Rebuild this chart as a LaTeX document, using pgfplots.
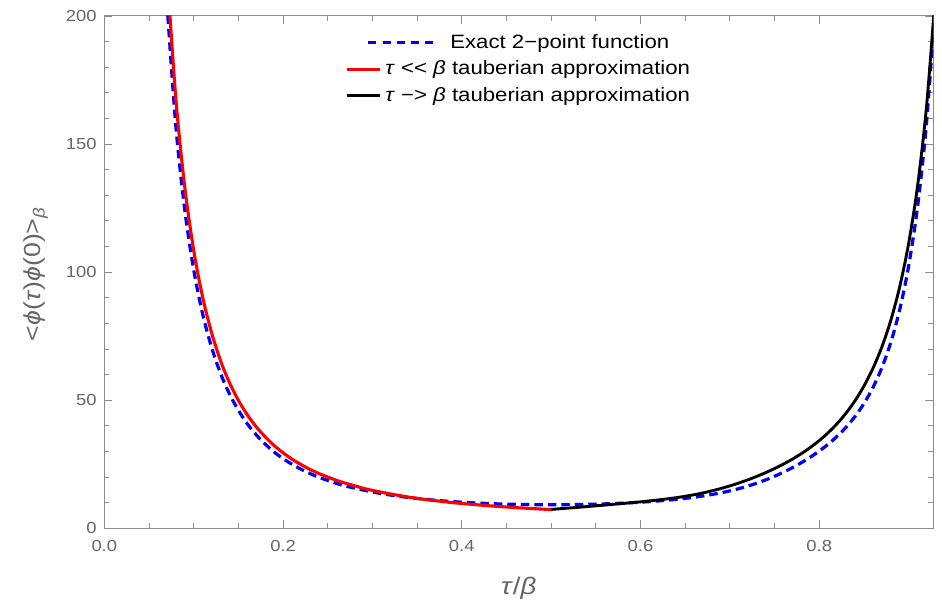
\documentclass[border=0pt]{standalone}
\usepackage{fontspec}
\setmainfont{Liberation Sans}[FakeStretch=1.15]
\usepackage{pgfplots}
\pgfplotsset{compat=1.18}
\definecolor{framegray}{HTML}{8C8C8C}
\definecolor{labelgray}{HTML}{666666}
\newcommand{\dsh}{\rule[4.2pt]{8pt}{3pt}}
\newcommand{\gp}{\hspace{6.25pt}}
\begin{document}
\begin{tikzpicture}
\begin{axis}[
  name=ax, scale only axis, width=829pt, height=512.3pt,
  xmin=0, xmax=0.9276, ymin=0, ymax=200,
  xtick={0,0.2,0.4,0.6,0.8}, ytick={0,50,100,150,200},
  minor x tick num=3, minor y tick num=4,
  tick align=inside, tick pos=both,
  major tick length=8pt, minor tick length=5pt,
  axis line style={framegray, line width=1pt},
  tick style={framegray, line width=0.9pt},
  /pgf/number format/assume math mode=true,
  xticklabel style={/pgf/number format/fixed, /pgf/number format/fixed zerofill, /pgf/number format/precision=1,
    font=\fontsize{16}{19}\selectfont, text=labelgray, inner sep=0pt, anchor=north, yshift=-11.7pt},
  yticklabel style={font=\fontsize{16}{19}\selectfont, text=labelgray, inner sep=0pt, anchor=east, xshift=-7.6pt},
  xlabel={\textit{τ}/\textit{β}},
  xlabel style={at={(axis description cs:0.5,-0.095)}, anchor=north, inner sep=0pt,
    font=\fontsize{24}{28}\selectfont, text=labelgray},
  ylabel={<\textit{ϕ}(\textit{τ})\textit{ϕ}(0)>\textsubscript{\textit{β}}},
  ylabel style={at={(axis description cs:-0.0824,0.496)}, anchor=center, inner sep=0pt,
    font=\fontsize{23.2}{27}\selectfont, text=labelgray},
  legend style={at={(axis description cs:0.5,0.972)}, anchor=north, draw=none, fill=none,
    inner sep=0pt, outer sep=0pt, row sep=0pt, column sep=0pt,
    font=\fontsize{19.3}{23}\selectfont,
    nodes={inner sep=0pt, text height=18pt, text depth=8.5pt}},
  legend cell align=center,
]
\addplot[blue, line width=3.2pt, dash pattern=on 8.5pt off 5pt, smooth, legend image code/.code={}] coordinates {
(0.07,205.5) (0.08,157.2) (0.09,124.4) (0.10,101.0) (0.11,83.7) (0.12,70.7) (0.13,60.5)
(0.14,52.5) (0.15,46.1) (0.16,40.8) (0.17,36.5) (0.18,32.9) (0.19,29.8) (0.20,27.2)
(0.21,25.0) (0.22,23.1) (0.23,21.4) (0.24,19.9) (0.25,18.7) (0.26,17.5) (0.27,16.5)
(0.28,15.7) (0.29,14.9) (0.30,14.2) (0.31,13.55) (0.32,12.99) (0.33,12.49) (0.34,12.04)
(0.35,11.64) (0.36,11.28) (0.37,10.96) (0.38,10.67) (0.39,10.42) (0.40,10.19) (0.41,9.99)
(0.42,9.82) (0.43,9.67) (0.44,9.54) (0.45,9.44) (0.46,9.35) (0.47,9.28) (0.48,9.24)
(0.49,9.21) (0.50,9.20) (0.51,9.21) (0.52,9.24) (0.53,9.28) (0.54,9.35) (0.55,9.44)
(0.56,9.54) (0.57,9.67) (0.58,9.82) (0.59,9.99) (0.60,10.19) (0.61,10.42) (0.62,10.68)
(0.63,10.98) (0.64,11.31) (0.65,11.69) (0.66,12.13) (0.67,12.63) (0.68,13.20) (0.69,13.86)
(0.70,14.61) (0.71,15.48) (0.72,16.48) (0.73,17.61) (0.74,18.89) (0.75,20.32) (0.76,21.92)
(0.77,23.68) (0.78,25.63) (0.79,27.78) (0.80,30.17) (0.81,32.85) (0.82,35.91) (0.83,39.46)
(0.84,43.66) (0.85,48.71) (0.86,54.91) (0.87,62.67) (0.88,72.54) (0.89,85.37) (0.90,102.4)
(0.91,125.6) (0.92,158.2) (0.93,206.3)
};
\addlegendentry{\textcolor{blue}{\dsh\gp\dsh\gp\dsh\gp\dsh\gp\dsh}\hspace{17pt}Exact 2−point function}
\addplot[red, line width=3.1pt, smooth, legend image code/.code={}] coordinates {
(0.07,218.4) (0.08,167.9) (0.09,133.3) (0.10,108.6) (0.11,90.3) (0.12,76.4) (0.13,65.5)
(0.14,56.9) (0.15,50.0) (0.16,44.3) (0.17,39.6) (0.18,35.7) (0.19,32.3) (0.20,29.5)
(0.21,27.0) (0.22,24.9) (0.23,23.0) (0.24,21.4) (0.25,20.0) (0.26,18.7) (0.27,17.6)
(0.28,16.6) (0.29,15.6) (0.30,14.8) (0.31,14.1) (0.32,13.4) (0.33,12.8) (0.34,12.2)
(0.35,11.7) (0.36,11.2) (0.37,10.8) (0.38,10.4) (0.39,10.0) (0.40,9.70) (0.41,9.38)
(0.42,9.08) (0.43,8.81) (0.44,8.55) (0.45,8.31) (0.46,8.09) (0.47,7.88) (0.48,7.68)
(0.49,7.49) (0.50,7.32)
};
\addlegendentry{\textcolor{red}{\rule[4.2pt]{33pt}{3pt}}\hspace{5pt}\textit{τ} {<}{<} \textit{β} tauberian approximation}
\addplot[black, line width=2.9pt, smooth, legend image code/.code={}] coordinates {
(0.50,7.35) (0.51,7.65) (0.52,7.91) (0.53,8.19) (0.54,8.48) (0.55,8.77) (0.56,9.07)
(0.57,9.38) (0.58,9.68) (0.59,10.00) (0.60,10.33) (0.61,10.69) (0.62,11.07) (0.63,11.49)
(0.64,11.96) (0.65,12.50) (0.66,13.12) (0.67,13.83) (0.68,14.64) (0.69,15.54) (0.70,16.56)
(0.71,17.68) (0.72,18.91) (0.73,20.26) (0.74,21.72) (0.75,23.33) (0.76,25.08) (0.77,27.01)
(0.78,29.16) (0.79,31.55) (0.80,34.26) (0.81,37.33) (0.82,40.87) (0.83,44.99) (0.84,49.82)
(0.85,55.53) (0.86,62.40) (0.87,70.77) (0.88,81.15) (0.89,94.27) (0.90,111.2) (0.91,133.7)
(0.92,164.6) (0.93,208.9)
};
\addlegendentry{\textcolor{black}{\rule[4.2pt]{33pt}{3pt}}\hspace{5pt}\textit{τ} −> \textit{β} tauberian approximation}
\end{axis}
\pgfresetboundingbox
\path ([xshift=-104.3pt,yshift=-73.7pt]ax.south west) rectangle ([xshift=8.7pt,yshift=16pt]ax.north east);
\end{tikzpicture}
\end{document}
